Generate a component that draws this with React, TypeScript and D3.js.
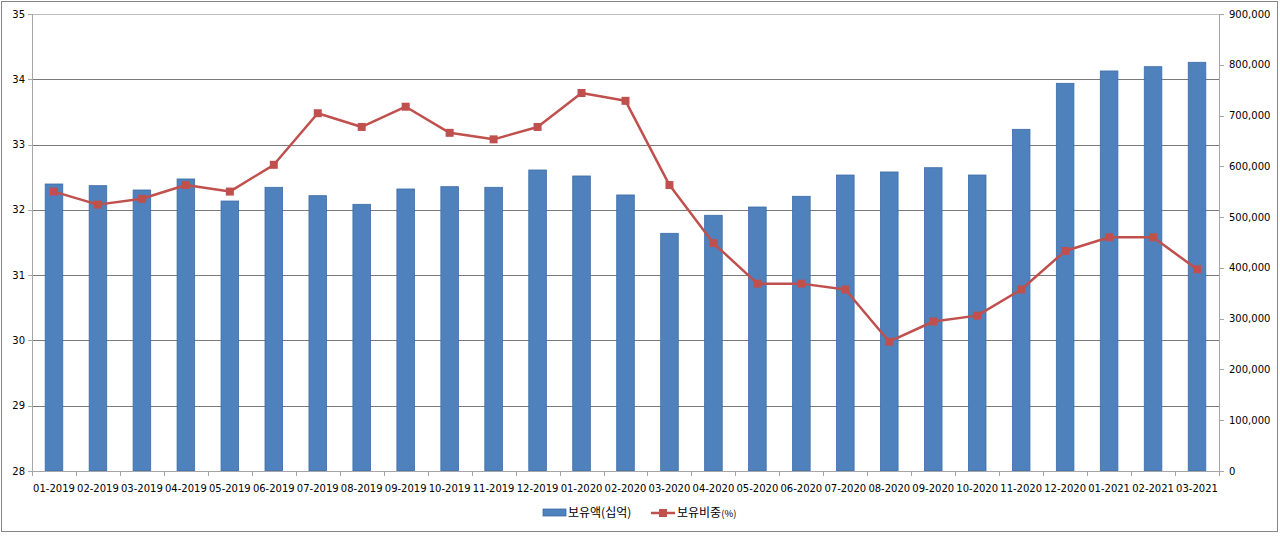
import React from 'react';
import * as d3 from 'd3';

const categories = [
  '01-2019', '02-2019', '03-2019', '04-2019', '05-2019', '06-2019', '07-2019', '08-2019', '09-2019',
  '10-2019', '11-2019', '12-2019', '01-2020', '02-2020', '03-2020', '04-2020', '05-2020', '06-2020',
  '07-2020', '08-2020', '09-2020', '10-2020', '11-2020', '12-2020', '01-2021', '02-2021', '03-2021',
];

// 보유액(십억) - right axis
const holdings = [
  565200, 561900, 553400, 575100, 531700, 558700, 542200, 525200, 555400,
  559900, 558700, 592800, 581000, 543600, 468100, 503600, 519900, 541000,
  582900, 588900, 597300, 582900, 672900, 763500, 787800, 796200, 804900,
];

// 보유비중(%) - left axis
const shares = [
  32.28, 32.08, 32.17, 32.38, 32.28, 32.69, 33.48, 33.27, 33.58,
  33.18, 33.08, 33.27, 33.79, 33.67, 32.38, 31.49, 30.87, 30.87,
  30.78, 29.98, 30.29, 30.38, 30.78, 31.37, 31.58, 31.58, 31.09,
];

const leftTicks = [28, 29, 30, 31, 32, 33, 34, 35];
const rightTicks = [0, 100000, 200000, 300000, 400000, 500000, 600000, 700000, 800000, 900000];

const W = 1280;
const H = 536;
const LEFT = 32;
const RIGHT = 1219;
const TOP = 14;
const BOTTOM = 471;

const BAR = '#4F81BD';
const RED = '#C0504D';
const FONT = '"DejaVu Sans", sans-serif';
const KR = '"Noto Sans CJK KR", sans-serif';

export default function App() {
  const x = d3.scaleBand<string>()
    .domain(categories)
    .range([LEFT, RIGHT])
    .paddingInner(0.6)
    .paddingOuter(0.3);
  const yL = d3.scaleLinear().domain([28, 35]).range([BOTTOM, TOP]);
  const yR = d3.scaleLinear().domain([0, 900000]).range([BOTTOM, TOP]);
  const fmt = d3.format(',');

  const cx = (i: number) => (x(categories[i]) ?? 0) + x.bandwidth() / 2;

  const line = d3.line<number>()
    .x((_, i) => cx(i))
    .y((d) => yL(d));

  const step = x.step();

  return (
    <svg width={W} height={H} style={{ position: 'absolute', left: 0, top: 0, background: '#fff' }}>
      <rect x={1.5} y={1.5} width={1276} height={530} fill="#fff" stroke="#868686" strokeWidth={1} />

      {/* gridlines */}
      {leftTicks.slice(1, -1).map((t) => (
        <line key={t} x1={LEFT} x2={RIGHT} y1={Math.round(yL(t)) + 0.5} y2={Math.round(yL(t)) + 0.5} stroke="#7a7a7a" />
      ))}
      <line x1={LEFT} x2={RIGHT} y1={TOP + 0.5} y2={TOP + 0.5} stroke="#bdbdbd" />

      {/* bars */}
      {categories.map((c, i) => (
        <rect
          key={c}
          x={x(c)}
          y={yR(holdings[i])}
          width={x.bandwidth()}
          height={BOTTOM - yR(holdings[i])}
          fill={BAR}
          stroke="#3C6DA8"
          strokeWidth={0.8}
        />
      ))}

      {/* axes */}
      <line x1={LEFT + 0.5} x2={LEFT + 0.5} y1={TOP} y2={BOTTOM} stroke="#a6a6a6" />
      <line x1={RIGHT + 0.5} x2={RIGHT + 0.5} y1={TOP} y2={BOTTOM} stroke="#a6a6a6" />
      <line x1={LEFT} x2={RIGHT} y1={BOTTOM + 0.5} y2={BOTTOM + 0.5} stroke="#a6a6a6" />

      {leftTicks.map((t) => (
        <g key={t}>
          <line x1={LEFT - 4} x2={LEFT} y1={Math.round(yL(t)) + 0.5} y2={Math.round(yL(t)) + 0.5} stroke="#a6a6a6" />
          <text x={25} y={yL(t)} dy="0.35em" textAnchor="end" fontFamily={FONT} fontSize={10} fill="#000">{t}</text>
        </g>
      ))}
      {rightTicks.map((t) => (
        <g key={t}>
          <line x1={RIGHT} x2={RIGHT + 5} y1={Math.round(yR(t)) + 0.5} y2={Math.round(yR(t)) + 0.5} stroke="#a6a6a6" />
          <text x={1229} y={yR(t)} dy="0.35em" textAnchor="start" fontFamily={FONT} fontSize={10} fill="#000">{fmt(t)}</text>
        </g>
      ))}
      {categories.map((c, i) => (
        <line key={c} x1={Math.round(LEFT + i * step) + 0.5} x2={Math.round(LEFT + i * step) + 0.5} y1={BOTTOM} y2={BOTTOM + 5} stroke="#a6a6a6" />
      ))}
      <line x1={RIGHT + 0.5} x2={RIGHT + 0.5} y1={BOTTOM} y2={BOTTOM + 5} stroke="#a6a6a6" />
      {categories.map((c, i) => (
        <text key={c} x={cx(i)} y={488} dy="0.35em" textAnchor="middle" fontFamily={FONT} fontSize={10} fill="#000">{c}</text>
      ))}

      {/* line series */}
      <path d={line(shares) ?? ''} fill="none" stroke={RED} strokeWidth={2.5} strokeLinejoin="round" />
      {shares.map((v, i) => (
        <rect key={i} x={cx(i) - 4} y={yL(v) - 4} width={8} height={8} fill={RED} />
      ))}

      {/* legend */}
      <rect x={543} y={509} width={23} height={7} fill={BAR} stroke="#3C6DA8" strokeWidth={0.8} />
      <text x={568} y={513} dy="0.35em" fontFamily={KR} fontSize={12} fill="#000">보유액(십억)</text>
      <line x1={651} x2={675} y1={513} y2={513} stroke={RED} strokeWidth={2.5} />
      <rect x={659} y={509} width={8} height={8} fill={RED} />
      <text x={677} y={513} dy="0.35em" fontFamily={KR} fontSize={12} fill="#000">
        보유비중<tspan fontSize={9.5}>(%)</tspan>
      </text>
    </svg>
  );
}
